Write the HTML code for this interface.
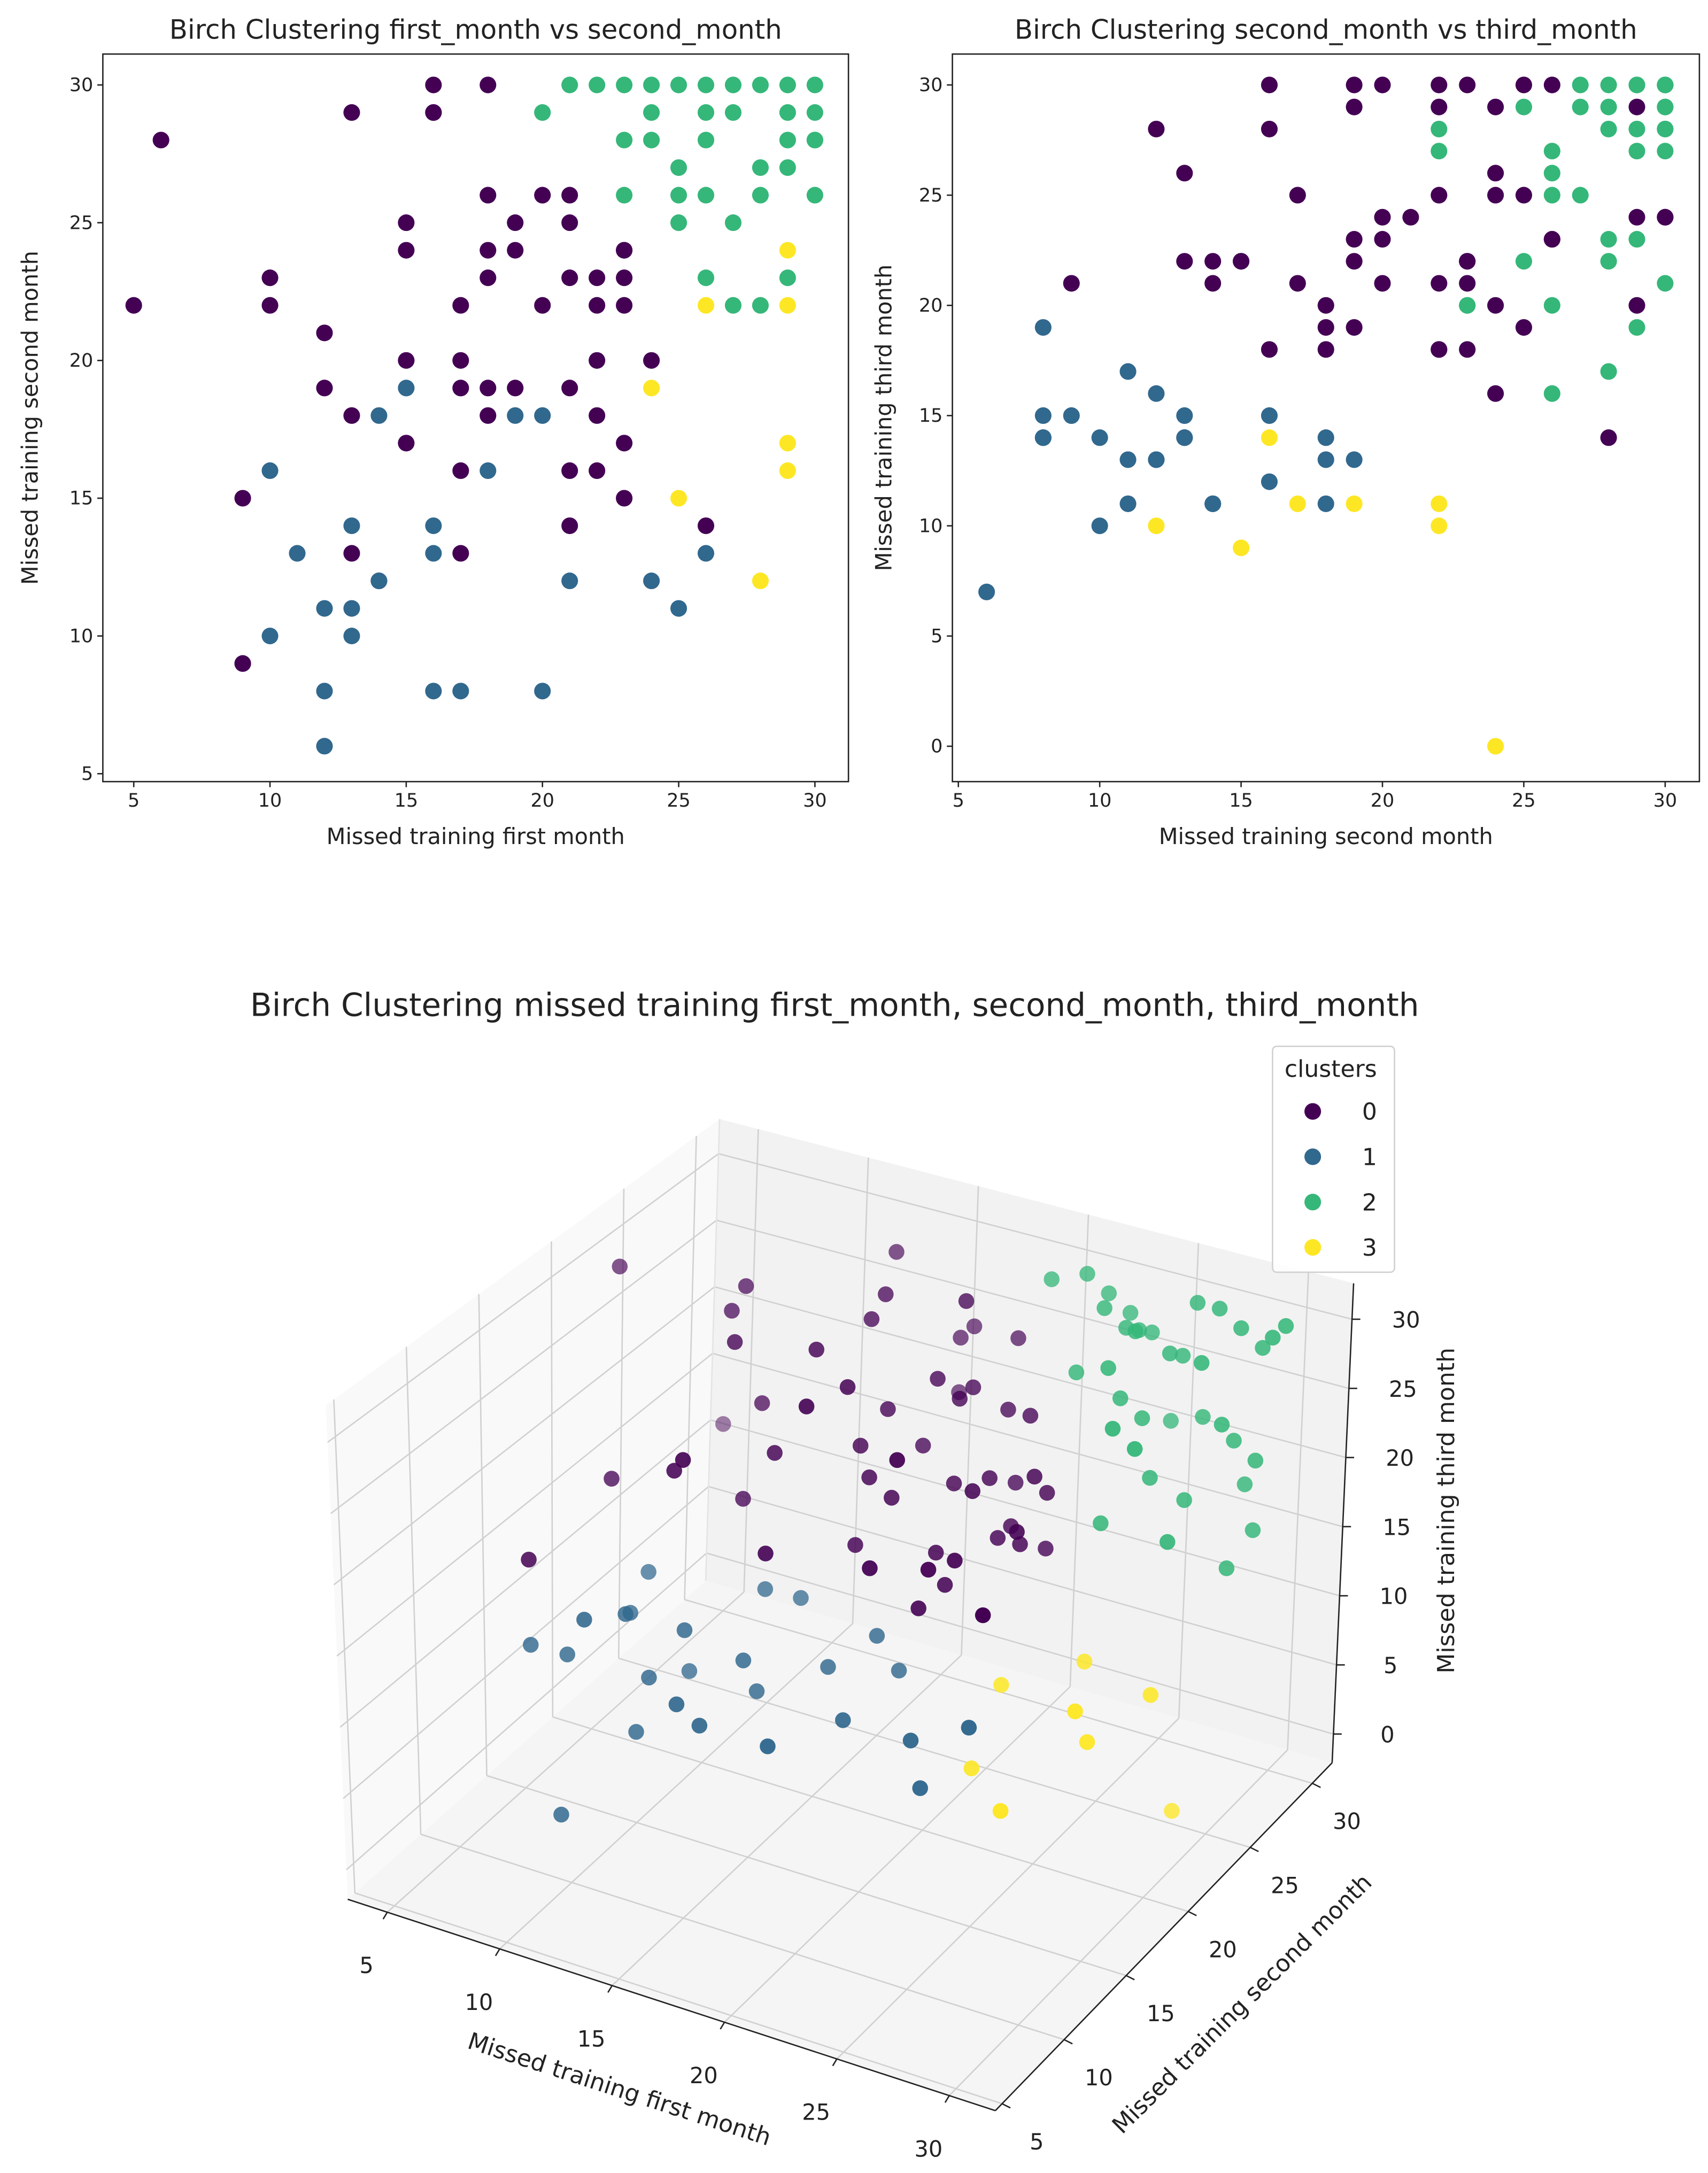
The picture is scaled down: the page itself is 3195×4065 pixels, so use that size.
<!DOCTYPE html>
<html><head><meta charset="utf-8">
<style>
html,body{margin:0;padding:0;background:#fff;}
svg{display:block;}
text{font-family:"DejaVu Sans","Liberation Sans",sans-serif;fill:#222;}
</style></head>
<body>
<svg id="chart" width="3195" height="4065" viewBox="0 0 1232 1568" xmlns="http://www.w3.org/2000/svg">
<rect x="0" y="0" width="1232" height="1568" fill="#fff"/>
<g id="g1"></g>
<g id="g2"></g>
<g id="g3"></g>
</svg>
<script>
const first = [9,14,12,12,16,17,20,9,10,13,12,13,25,14,21,24,28,11,16,26,13,17,13,16,21,26,9,23,25,10,18,17,21,22,29,15,23,29,13,18,22,14,19,20,12,17,18,19,21,15,24,15,17,22,24,12,5,10,17,20,22,23,26,29,27,28,10,18,21,22,23,26,29,15,18,19,23,23,29,15,19,21,25,27,18,20,21,23,25,26,28,30,25,28,29,6,23,24,26,29,30,30,13,16,16,20,24,26,27,29,30,16,18,21,22,23,24,25,26,27,28,29,30];
const second = [9,12,6,8,8,8,8,9,10,10,11,11,11,12,12,12,12,13,13,13,13,13,14,14,14,14,15,15,15,16,16,16,16,16,16,17,17,17,18,18,18,18,18,18,19,19,19,19,19,19,19,20,20,20,20,21,22,22,22,22,22,22,22,22,22,22,23,23,23,23,23,23,23,24,24,24,24,24,24,25,25,25,25,25,26,26,26,26,26,26,26,26,27,27,27,28,28,28,28,28,28,28,29,29,29,29,29,29,29,29,29,30,30,30,30,30,30,30,30,30,30,30,30];
const third = [15,28,7,19,15,14,14,21,14,10,17,13,11,16,13,13,10,15,14,14,26,22,11,11,22,21,22,22,9,15,12,30,28,18,14,25,21,11,20,19,18,14,13,11,30,29,23,22,19,13,11,30,24,23,21,24,30,29,25,21,18,18,11,10,28,27,30,22,21,18,22,20,20,29,26,25,20,16,0,30,25,19,29,22,30,23,23,27,26,25,20,16,30,29,25,14,30,29,28,23,22,17,29,24,20,30,28,27,23,19,30,24,24,30,29,28,27,21,30,30,29,28,30];
const cluster = [1,0,1,1,1,1,1,0,1,1,1,1,1,1,1,1,3,1,1,1,0,0,1,1,0,0,0,0,3,1,1,0,0,0,3,0,0,3,0,0,0,1,1,1,0,0,0,0,0,1,3,0,0,0,0,0,0,0,0,0,0,0,3,3,2,2,0,0,0,0,0,2,2,0,0,0,0,0,3,0,0,0,2,2,0,0,0,2,2,2,2,2,2,2,2,0,2,2,2,2,2,2,0,0,0,2,2,2,2,2,2,0,0,2,2,2,2,2,2,2,2,2,2];
const clusterLabels = ["0","1","2","3"];
const xTicks1 = [5,10,15,20,25,30];
const yTicks1 = [5,10,15,20,25,30];
const xTicks2 = [5,10,15,20,25,30];
const yTicks2 = [0,5,10,15,20,25,30];
const ticks3x = [5,10,15,20,25,30];
const ticks3y = [5,10,15,20,25,30];
const ticks3z = [0,5,10,15,20,25,30];
const colors = ["#440154","#31688e","#35b779","#fde725"];

const NS="http://www.w3.org/2000/svg";
function mk(tag, attrs, parent){const e=document.createElementNS(NS,tag);for(const k in attrs)e.setAttribute(k,attrs[k]);parent.appendChild(e);return e;}

function chart2d(g, o){
  const L=o.L,R=o.R,T=39,B=564;
  const sx=v=>o.x0+(v-o.xa)*o.xs;
  const sy=v=>o.y0+(v-o.ya)*o.ys;
  for(let i=0;i<o.xs_.length;i++){
    const p=mk('circle',{cx:sx(o.xs_[i]),cy:sy(o.ys_[i]),r:6,fill:colors[o.c[i]]},g);
    
    
  }
  const fr=mk('rect',{x:L,y:T,width:R-L,height:B-T,fill:'none',stroke:'#222','stroke-width':1},g);
  
  
  o.xt.forEach(v=>{
    mk('line',{x1:sx(v),x2:sx(v),y1:B,y2:B+4,stroke:'#222','stroke-width':1},g);
    const t=mk('text',{x:sx(v),y:B+18,'font-size':13.5,'text-anchor':'middle'},g);t.textContent=v;
    
    
  });
  o.yt.forEach(v=>{
    mk('line',{x1:L,x2:L-4,y1:sy(v),y2:sy(v),stroke:'#222','stroke-width':1},g);
    const t=mk('text',{x:L-7,y:sy(v)+4.5,'font-size':13.5,'text-anchor':'end'},g);t.textContent=v;
    
    
  });
  const ti=mk('text',{x:(L+R)/2,y:28,'font-size':19.2,'text-anchor':'middle'},g);ti.textContent=o.title;
  
  
  const xl=mk('text',{x:(L+R)/2,y:609,'font-size':16,'text-anchor':'middle'},g);xl.textContent=o.xlab;
  
  
  const yl=mk('text',{x:0,y:0,'font-size':16,'text-anchor':'middle',transform:`translate(${o.ylx},${(T+B)/2}) rotate(-90)`},g);yl.textContent=o.ylab;
  
  
}
chart2d(document.getElementById('g1'),{L:74,R:612,x0:96.3,xa:5,xs:19.66,y0:61.3,ya:30,ys:-19.88,
  xs_:first,ys_:second,c:cluster,xt:xTicks1,yt:yTicks1,
  title:'Birch Clustering first_month vs second_month',xlab:'Missed training first month',ylab:'Missed training second month',ylx:27});
chart2d(document.getElementById('g2'),{L:687,R:1226,x0:691.3,xa:5,xs:20.4,y0:61.3,ya:30,ys:-15.906,
  xs_:second,ys_:third,c:cluster,xt:xTicks2,yt:yTicks2,
  title:'Birch Clustering second_month vs third_month',xlab:'Missed training second month',ylab:'Missed training third month',ylx:643});

// 3D
const g3=document.getElementById('g3');
const XR=[3.24,32.05],YR=[4.46,31.6],ZR=[-2.08,32.6];
const C={c000:[250.7,1370.5],c100:[718,1523],c110:[961,1272],c010:[509,1140.7],
 c001:[235,1014],c101:[720,1153],c111:[976.5,926],c011:[519,807.5]};
function P(x,y,z){
  const u=(x-XR[0])/(XR[1]-XR[0]),v=(y-YR[0])/(YR[1]-YR[0]),w=(z-ZR[0])/(ZR[1]-ZR[0]);
  const r=[0,0];
  for(let i=0;i<2;i++){
    const a=C.c000[i]*(1-u)+C.c100[i]*u, b=C.c010[i]*(1-u)+C.c110[i]*u;
    const c=C.c001[i]*(1-u)+C.c101[i]*u, d=C.c011[i]*(1-u)+C.c111[i]*u;
    const lo=a*(1-v)+b*v, hi=c*(1-v)+d*v;
    r[i]=lo*(1-w)+hi*w;
  }
  return r;
}
function poly(pts,fill,name){const p=mk('polygon',{points:pts.map(q=>q.join(',')).join(' '),fill:fill,stroke:'none'},g3);
  
  }
function ln(a,b,st,w){mk('line',{x1:a[0],y1:a[1],x2:b[0],y2:b[1],stroke:st,'stroke-width':w},g3);}
poly([P(XR[0],YR[0],ZR[0]),P(XR[0],YR[1],ZR[0]),P(XR[0],YR[1],ZR[1]),P(XR[0],YR[0],ZR[1])],'#f9f9f9','left-pane');
poly([P(XR[0],YR[1],ZR[0]),P(XR[1],YR[1],ZR[0]),P(XR[1],YR[1],ZR[1]),P(XR[0],YR[1],ZR[1])],'#f2f2f2','back-pane');
poly([P(XR[0],YR[0],ZR[0]),P(XR[1],YR[0],ZR[0]),P(XR[1],YR[1],ZR[0]),P(XR[0],YR[1],ZR[0])],'#f5f5f5','floor-pane');
const GC='#d0d0d0';
ticks3x.forEach(v=>{ln(P(v,YR[0],ZR[0]),P(v,YR[1],ZR[0]),GC,1);ln(P(v,YR[1],ZR[0]),P(v,YR[1],ZR[1]),GC,1);});
ticks3y.forEach(v=>{ln(P(XR[0],v,ZR[0]),P(XR[1],v,ZR[0]),GC,1);ln(P(XR[0],v,ZR[0]),P(XR[0],v,ZR[1]),GC,1);});
ticks3z.forEach(v=>{ln(P(XR[0],YR[0],v),P(XR[0],YR[1],v),GC,1);ln(P(XR[0],YR[1],v),P(XR[1],YR[1],v),GC,1);});
ln(P(XR[0],YR[1],ZR[0]),P(XR[0],YR[1],ZR[1]),'#e4e4e4',1);
ln(P(XR[0],YR[0],ZR[0]),P(XR[1],YR[0],ZR[0]),'#222',1);
ln(P(XR[1],YR[0],ZR[0]),P(XR[1],YR[1],ZR[0]),'#222',1);
ln(P(XR[1],YR[1],ZR[0]),P(XR[1],YR[1],ZR[1]),'#222',1);
ticks3x.forEach(v=>{const a=P(v,YR[0],ZR[0]);ln(a,[a[0]-3,a[1]+5],'#222',1);
  const t=mk('text',{x:a[0]-15,y:a[1]+44,'font-size':16,'text-anchor':'middle'},g3);t.textContent=v;
  
  });
ticks3y.forEach(v=>{const a=P(XR[1],v,ZR[0]);ln(a,[a[0]+6,a[1]+3],'#222',1);
  const t=mk('text',{x:a[0]+25,y:a[1]+33,'font-size':16,'text-anchor':'middle'},g3);t.textContent=v;
  
  });
ticks3z.forEach(v=>{const a=P(XR[1],YR[1],v);ln(a,[a[0]+6,a[1]],'#222',1);
  const t=mk('text',{x:a[0]+39,y:a[1]+6,'font-size':16,'text-anchor':'middle'},g3);t.textContent=v;
  
  });
const idx=first.map((_,i)=>i);
const close=i=>(first[i]-XR[0])/(XR[1]-XR[0])+(YR[1]-second[i])/(YR[1]-YR[0])+0.5*(third[i]-ZR[0])/(ZR[1]-ZR[0]);
const cl=idx.map(close);const cmin=Math.min(...cl),cmax=Math.max(...cl);
idx.sort((a,b)=>cl[a]-cl[b]);
idx.forEach(i=>{const p=P(first[i],second[i],third[i]);
  const al=0.5+0.5*(cl[i]-cmin)/(cmax-cmin);
  const c=mk('circle',{cx:p[0],cy:p[1],r:5.7,fill:colors[cluster[i]],'fill-opacity':al.toFixed(2)},g3);
  
  });
const t3=mk('text',{x:602,y:733,'font-size':23,'text-anchor':'middle'},g3);t3.textContent='Birch Clustering missed training first_month, second_month, third_month';


const xl3=mk('text',{x:0,y:0,'font-size':17,'text-anchor':'middle',transform:'translate(445,1513) rotate(18)'},g3);xl3.textContent='Missed training first month';


const yl3=mk('text',{x:0,y:0,'font-size':17,'text-anchor':'middle',transform:'translate(900,1450) rotate(-45)'},g3);yl3.textContent='Missed training second month';


const zl3=mk('text',{x:0,y:0,'font-size':17,'text-anchor':'middle',transform:'translate(1049,1090) rotate(-90)'},g3);zl3.textContent='Missed training third month';


const lg=mk('g',{},g3);


mk('rect',{x:918,y:755,width:88,height:163,rx:3,fill:'#fff','fill-opacity':0.85,stroke:'#d0d0d0','stroke-width':1},lg);
const lt=mk('text',{x:960,y:777,'font-size':17,'text-anchor':'middle'},lg);lt.textContent='clusters';


clusterLabels.forEach((lab,k)=>{const y=802+k*32.7;
  const e=mk('g',{},lg);
  
  
  mk('circle',{cx:947,cy:y,r:6,fill:colors[k]},e);
  const t=mk('text',{x:988,y:y+6,'font-size':17,'text-anchor':'middle'},e);t.textContent=lab;});
</script>
</body></html>
